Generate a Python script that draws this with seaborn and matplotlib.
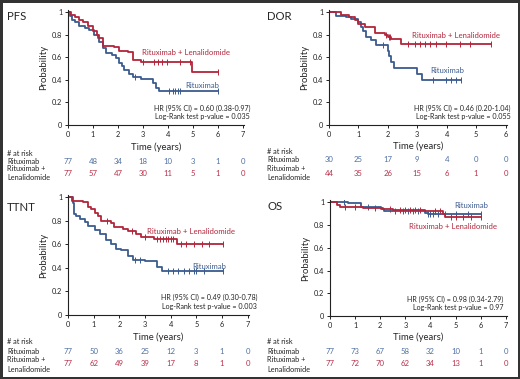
import numpy as np
import matplotlib
matplotlib.use("Agg")
import matplotlib.pyplot as plt
import matplotlib.transforms as mtrans
import seaborn as sns

# ---- data (step points: value holds from t onward) ----
pfs_rit_t = [0, 0.07, 0.17, 0.3, 0.46, 0.7, 0.86, 1.06, 1.2, 1.26, 1.4, 1.53, 1.75, 1.93, 2.06, 2.15, 2.26, 2.46, 2.6, 2.92, 3.39, 3.52, 3.63, 6.0]
pfs_rit_s = [1, 0.97, 0.93, 0.91, 0.88, 0.86, 0.84, 0.80, 0.77, 0.74, 0.68, 0.64, 0.62, 0.59, 0.55, 0.52, 0.49, 0.45, 0.43, 0.41, 0.37, 0.33, 0.30, 0.30]
pfs_rit_cens = [2.7, 4.05, 4.2, 4.3, 4.4, 4.5, 6.0]
pfs_rl_t = [0, 0.13, 0.3, 0.46, 0.6, 0.8, 1.0, 1.15, 1.26, 1.4, 1.86, 2.06, 2.4, 2.6, 2.92, 4.95, 6.0]
pfs_rl_s = [1, 0.98, 0.96, 0.93, 0.91, 0.88, 0.83, 0.80, 0.77, 0.70, 0.69, 0.66, 0.65, 0.58, 0.56, 0.47, 0.47]
pfs_rl_cens = [2.99, 3.45, 3.59, 3.78, 3.98, 4.5, 4.9, 6.0]

dor_rit_t = [0, 0.23, 0.59, 0.76, 0.99, 1.1, 1.16, 1.25, 1.44, 1.61, 2.0, 2.05, 2.12, 2.2, 2.99, 3.16, 4.5]
dor_rit_s = [1, 0.97, 0.96, 0.94, 0.91, 0.87, 0.83, 0.78, 0.75, 0.71, 0.66, 0.61, 0.56, 0.51, 0.45, 0.40, 0.40]
dor_rit_cens = [1.84, 3.54, 3.99, 4.16, 4.33, 4.5]
dor_rl_t = [0, 0.42, 0.68, 0.87, 0.99, 1.21, 1.55, 1.89, 2.0, 2.12, 2.46, 5.52]
dor_rl_s = [1, 0.98, 0.96, 0.93, 0.90, 0.87, 0.82, 0.80, 0.78, 0.76, 0.72, 0.72]
dor_rl_cens = [1.95, 2.04, 2.09, 2.69, 2.91, 3.08, 3.25, 3.42, 3.65, 3.99, 4.44, 4.78, 5.52]

ttnt_rit_t = [0, 0.2, 0.22, 0.25, 0.3, 0.46, 0.66, 0.78, 1.04, 1.23, 1.49, 1.69, 1.88, 2.07, 2.33, 2.52, 3.0, 3.45, 3.65, 6.05]
ttnt_rit_s = [1, 0.95, 0.90, 0.86, 0.84, 0.82, 0.79, 0.76, 0.72, 0.69, 0.64, 0.60, 0.56, 0.55, 0.50, 0.47, 0.46, 0.41, 0.37, 0.37]
ttnt_rit_cens = [2.6, 2.8, 3.9, 4.1, 4.3, 4.5, 4.7, 4.9, 5.0, 5.3, 6.05]
ttnt_rl_t = [0, 0.14, 0.59, 0.78, 0.91, 1.04, 1.17, 1.3, 1.69, 1.81, 2.14, 2.33, 2.65, 2.84, 3.36, 4.26, 6.05]
ttnt_rl_s = [1, 0.97, 0.96, 0.92, 0.90, 0.87, 0.84, 0.80, 0.78, 0.75, 0.73, 0.71, 0.69, 0.66, 0.65, 0.60, 0.60]
ttnt_rl_cens = [1.5, 2.5, 3.0, 3.45, 3.6, 3.7, 3.8, 3.9, 4.0, 4.1, 4.4, 4.6, 4.9, 5.2, 5.5, 6.05]

os_rit_t = [0, 0.73, 1.25, 2.05, 2.15, 3.8, 3.9, 6.0]
os_rit_s = [1, 0.99, 0.96, 0.94, 0.92, 0.91, 0.895, 0.895]
os_rit_cens = [0.55, 1.5, 2.6, 2.9, 3.1, 3.3, 3.5, 3.9, 4.0, 4.1, 4.3, 4.6, 5.0, 5.5, 6.0]
os_rl_t = [0, 0.26, 0.4, 1.3, 2.1, 2.5, 3.8, 4.5, 4.6, 6.0]
os_rl_s = [1, 0.98, 0.96, 0.95, 0.94, 0.93, 0.92, 0.90, 0.87, 0.87]
os_rl_cens = [0.6, 1.0, 1.8, 2.4, 2.8, 3.0, 3.2, 3.4, 3.6, 4.2, 4.4, 4.8, 5.0, 5.3, 5.6, 6.0]

# numbers at risk
pfs_risk_rit = [77, 48, 34, 18, 10, 3, 1, 0]
pfs_risk_rl = [77, 57, 47, 30, 11, 5, 1, 0]
dor_risk_rit = [30, 25, 17, 9, 4, 0, 0]
dor_risk_rl = [44, 35, 26, 15, 6, 1, 0]
ttnt_risk_rit = [77, 50, 36, 25, 12, 3, 1, 0]
ttnt_risk_rl = [77, 62, 49, 39, 17, 8, 1, 0]
os_risk_rit = [77, 73, 67, 58, 32, 10, 1, 0]
os_risk_rl = [77, 72, 70, 62, 34, 13, 1, 0]

panel_names = ["PFS", "DOR", "TTNT", "OS"]
hr_texts = ["HR (95% CI) = 0.60 (0.38-0.97)", "HR (95% CI) = 0.46 (0.20-1.04)",
            "HR (95% CI) = 0.49 (0.30-0.78)", "HR (95% CI) = 0.98 (0.34-2.79)"]
p_texts = ["Log-Rank test p-value = 0.035", "Log-Rank test p-value = 0.055",
           "Log-Rank test p-value = 0.003", "Log-Rank test p-value = 0.97"]

BLUE = "#3b5b8f"
RED = "#b3253a"
BLUE_TXT = "#4f6fa3"
RED_TXT = "#b8304a"

sns.set_style("ticks")
plt.rcParams["font.family"] = ["Lato", "DejaVu Sans"]

W, H = 520, 379
fig = plt.figure(figsize=(W / 100, H / 100), dpi=100)
fig.patch.set_edgecolor("#333333")
fig.patch.set_linewidth(2.5)


def px_axes(left, top, right, bottom):
    return fig.add_axes([left / W, 1 - bottom / H, (right - left) / W, (bottom - top) / H])


def step_at(t, s, c):
    idx = np.searchsorted(t, c, side="right") - 1
    return np.asarray(s)[idx]


panels = [
    dict(box=(68, 10, 244, 125), xmax=7, rit=(pfs_rit_t, pfs_rit_s, pfs_rit_cens), rl=(pfs_rl_t, pfs_rl_s, pfs_rl_cens),
         risk=(pfs_risk_rit, pfs_risk_rl), rl_lab=(2.98, 0.64, "left"), rit_lab=(6.05, 0.35, "right"),
         hr_x=1.035, risk_y=(161, 174), lab_x=7, lab_y=(153, 161, 169, 178), title=(7, 17), xl_y=147),
    dict(box=(329, 10, 507, 125), xmax=6, rit=(dor_rit_t, dor_rit_s, dor_rit_cens), rl=(dor_rl_t, dor_rl_s, dor_rl_cens),
         risk=(dor_risk_rit, dor_risk_rl), rl_lab=(2.83, 0.79, "left"), rit_lab=(3.45, 0.48, "left"),
         hr_x=1.02, risk_y=(160, 173), lab_x=267, lab_y=(152, 160, 169, 178), title=(267, 17), xl_y=146),
    dict(box=(68, 195, 249, 315), xmax=7, rit=(ttnt_rit_t, ttnt_rit_s, ttnt_rit_cens), rl=(ttnt_rl_t, ttnt_rl_s, ttnt_rl_cens),
         risk=(ttnt_risk_rit, ttnt_risk_rl), rl_lab=(3.08, 0.71, "left"), rit_lab=(6.16, 0.41, "right"),
         hr_x=1.045, risk_y=(351, 364), lab_x=7, lab_y=(342, 351, 359, 369), title=(7, 207), xl_y=337),
    dict(box=(330, 200, 507, 316), xmax=7, rit=(os_rit_t, os_rit_s, os_rit_cens), rl=(os_rl_t, os_rl_s, os_rl_cens),
         risk=(os_risk_rit, os_risk_rl), rl_lab=(3.15, 0.79, "left"), rit_lab=(4.93, 0.97, "left"),
         hr_x=0.98, risk_y=(351, 364), lab_x=267, lab_y=(342, 351, 360, 369), title=(267, 206), xl_y=337),
]

for name, hr, pv, p in zip(panel_names, hr_texts, p_texts, panels):
    ax = px_axes(*p["box"])
    for (t, s, cens), col in ((p["rit"], BLUE), (p["rl"], RED)):
        sns.lineplot(x=t, y=s, ax=ax, color=col, lw=1.3, drawstyle="steps-post")
        sns.scatterplot(x=cens, y=step_at(t, s, cens), ax=ax, color=col, marker="|",
                        s=14, linewidth=0.7)
    ax.set_xlim(0, p["xmax"] + 0.05)
    ax.set_ylim(0, 1.02)
    ax.set_xticks(range(p["xmax"] + 1))
    ax.set_yticks([0, 0.2, 0.4, 0.6, 0.8, 1])
    ax.set_yticklabels(["0", "0.2", "0.4", "0.6", "0.8", "1"])
    ax.tick_params(labelsize=5.3, length=2.5, width=0.7, pad=1.5, colors="#222222")
    for sp in ("left", "bottom"):
        ax.spines[sp].set_linewidth(0.8)
        ax.spines[sp].set_color("#222222")
    sns.despine(ax=ax)
    ax.set_ylabel("Probability", fontsize=6.8, labelpad=3)
    ax.set_xlabel("")

    x, y, ha = p["rl_lab"]
    ax.text(x, y, "Rituximab + Lenalidomide", color=RED, fontsize=5.6, ha=ha, va="center")
    x, y, ha = p["rit_lab"]
    ax.text(x, y, "Rituximab", color=BLUE, fontsize=5.6, ha=ha, va="center")
    ax.text(p["hr_x"], 0.145, hr, transform=ax.transAxes, fontsize=5.1, ha="right", va="center", color="#222222")
    ax.text(p["hr_x"], 0.07, pv, transform=ax.transAxes, fontsize=5.1, ha="right", va="center", color="#222222")

    left, top, right, bottom = p["box"]
    fig.text((left + right) / 2 / W, 1 - p["xl_y"] / H, "Time (years)", fontsize=6.8, ha="center", va="center")
    fig.text(p["title"][0] / W, 1 - p["title"][1] / H, name, fontsize=8.2, ha="left", va="center")

    for lbl, yy in zip(["# at risk", "Rituximab", "Rituximab +", "Lenalidomide"], p["lab_y"]):
        fig.text(p["lab_x"] / W, 1 - yy / H, lbl, fontsize=5.3, ha="left", va="center", color="#222222")
    trans = mtrans.blended_transform_factory(ax.transData, fig.transFigure)
    for vals, yy, col in zip(p["risk"], p["risk_y"], (BLUE_TXT, RED_TXT)):
        for i, v in enumerate(vals):
            ax.text(i, 1 - yy / H, str(v), transform=trans, fontsize=5.6, ha="center", va="center",
                    color=col, clip_on=False)

fig.savefig("out.png", dpi=100)
